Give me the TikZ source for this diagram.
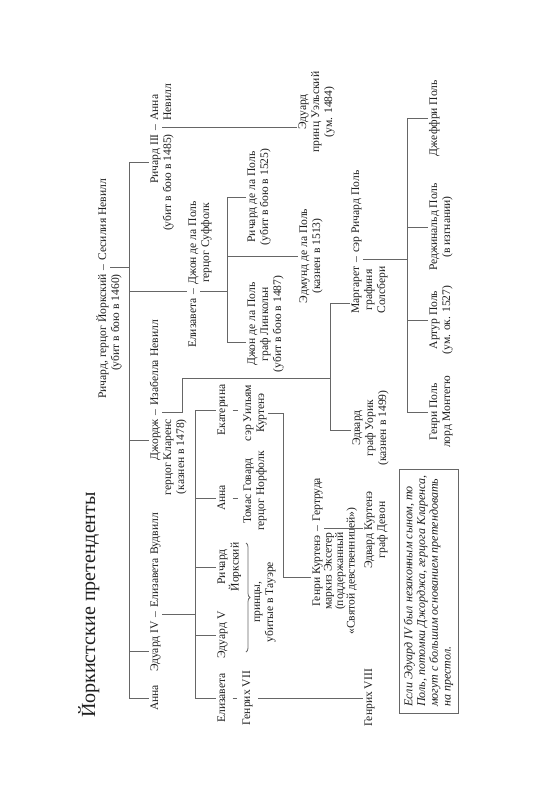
\documentclass[tikz,border=0pt]{standalone}
\usepackage{fontspec}
\setmainfont{Liberation Serif}
\usetikzlibrary{decorations.pathreplacing}
\newcommand\mlines[2][c]{\begin{tabular}[t]{@{}#1@{}}#2\end{tabular}}
\begin{document}
\begin{tikzpicture}[x=1pt,y=-1pt,
  every node/.style={rotate=90,inner sep=0pt,text=black!88,font=\fontsize{11.6}{13}\selectfont},
  tight/.style={font=\fontsize{11.6}{11.6}\selectfont},
  ln/.style={draw=black!60,line width=0.8pt},
  dsh/.style={inner xsep=3.5pt},
  wed/.style={ln,shorten <=3.5pt,shorten >=3.5pt}]
\useasboundingbox (0,0) rectangle (534,800);

% title
\node[font=\fontsize{20}{24}\selectfont,anchor=base] (title) at (95,605) {Йоркистские претенденты};

% generation 1
\node[anchor=base east] (york) at (106,274) {\mlines[r]{Ричард, герцог Йоркский\\(убит в бою в 1460)}};
\node[dsh,anchor=base west] (dY) at (york.base east) {\mlines{–}};
\node[anchor=base west] (cecily) at (dY.base east) {\mlines{Сесилия Невилл}};
\coordinate (tT) at (129,162);
\coordinate (tB) at (129,698);
\draw[ln] (tT) -- (tB);
\draw[ln] (dY.south) -- (dY.south -| tT);

% generation 2
\node[anchor=base] (annaY) at (158,698) {\mlines{Анна}};
\draw[ln] (tB) -- (annaY.north);

\node[anchor=base east] (edw) at (158,621) {\mlines{Эдуард IV}};
\node[dsh,anchor=base west] (dE) at (edw.base east) {\mlines{–}};
\node[anchor=base west] (elw) at (dE.base east) {\mlines{Елизавета Вудвилл}};
\coordinate (bE) at (129,651);
\draw[ln] (bE) -- (bE -| edw.north);

\node[anchor=base east] (george) at (158,419) {\mlines[r]{Джордж\\герцог Кларенс\\(казнен в 1478)}};
\node[dsh,anchor=base west] (dG) at (george.base east) {\mlines{–}};
\node[anchor=base west] (isabel) at (dG.base east) {\mlines{Изабелла Невилл}};
\coordinate (bG) at (129,440);
\draw[ln] (bG) -- (bG -| george.north);

\node[anchor=base east] (elzY) at (196,298) {\mlines{Елизавета}};
\node[dsh,anchor=base west] (dZ) at (elzY.base east) {\mlines{–}};
\node[anchor=base west] (suffolk) at (dZ.base east) {\mlines{Джон де ла Поль\\герцог Суффолк}};
\draw[ln] (dZ.north -| tT) -- (dZ.north -| elzY.north);

\node[anchor=base east] (r3) at (158,134) {\mlines[r]{Ричард III\\(убит в бою в 1485)}};
\node[dsh,anchor=base west] (dR) at (r3.base east) {\mlines{–}};
\node[anchor=base west] (annaN) at (dR.base east) {\mlines[l]{Анна\\Невилл}};
\draw[ln] (tT) -- (tT -| r3.north);

\node[anchor=base] (edP) at (306,112) {\mlines{Эдуард\\принц Уэльский\\(ум. 1484)}};
\draw[ln] (dR.south) -- (dR.south -| edP.north);

% children of Edward IV
\coordinate (vX) at (195,0);
\node[anchor=base] (elz) at (225,698) {\mlines{Елизавета}};
\node[anchor=base] (h7) at (250,698) {\mlines{Генрих VII}};
\draw[wed] (elz.south) -- (h7.north);
\node[anchor=base] (ed5) at (225,635) {\mlines{Эдуард V}};
\node[anchor=base] (rY) at (225,567) {\mlines{Ричард\\Йоркский}};
\coordinate (brT) at (246,543);
\coordinate (brB) at (246,652);
\draw[ln,decorate,decoration={brace,amplitude=4pt}] (brT) -- (brB);
\node[anchor=base] (princes) at (260,602) {\mlines{принцы,\\убитые в Тауэре}};
\node[anchor=base] (annaE) at (225,498) {\mlines{Анна}};
\node[anchor=base] (howard) at (251,491) {\mlines{Томас Говард\\герцог Норфолк}};
\draw[wed] (annaE.south) -- (annaE.south -| howard.north);
\node[anchor=base] (kat) at (225,410) {\mlines{Екатерина}};
\node[anchor=base] (wc) at (251,413) {\mlines{сэр Уильям\\Куртенэ}};
\draw[wed] (kat.south) -- (kat.south -| wc.north);
\draw[ln] (kat.north -| vX) -- (elz.north -| vX);
\draw[ln] (dE.south) -- (dE.south -| vX);
\foreach \c in {elz,ed5,rY,annaE,kat} \draw[ln] (\c.north -| vX) -- (\c.north);

\node[anchor=base] (h8) at (372,698) {\mlines{Генрих VIII}};
\draw[ln,shorten <=4pt] (h8.north -| h7.south) -- (h8.north);

% Courtenay
\node[anchor=base] (hc1) at (320,571) {\mlines{Генри Куртенэ}};
\node[tight,anchor=base] (hc2) at (331.5,571) {\mlines{маркиз Эксетер\\(поддержанный\\«Святой девственницей»)}};
\node[dsh,anchor=base west] (dH) at (hc1.base east) {\mlines{–}};
\node[anchor=base west] (gert) at (dH.base east) {\mlines{Гертруда}};
\coordinate (cK) at (283,577);
\draw[ln] (wc.south) -| (cK) -- (cK -| hc1.north);
\node[anchor=base] (ec) at (372,530) {\mlines{Эдвард Куртенэ\\граф Девон}};
\draw[ln] (dH.south) -- (dH.south -| ec.north);

% children of George
\coordinate (gK) at (182,378);
\coordinate (wT) at (330,303);
\coordinate (wB) at (330,430);
\draw[ln] (dG.south) -| (gK) -- (gK -| wT);
\draw[ln] (wT) -- (wB);
\node[anchor=base] (mg) at (359,290) {\mlines{Маргарет\\графиня\\Солсбери}};
\node[dsh,anchor=base west] (dM) at (mg.base east) {\mlines{–}};
\node[anchor=base west] (rpole) at (dM.base east) {\mlines{сэр Ричард Поль}};
\node[anchor=base] (ew) at (360,428) {\mlines{Эдвард\\граф Уорик\\(казнен в 1499)}};
\draw[ln] (wT) -- (wT -| mg.north);
\draw[ln] (wB) -- (wB -| ew.north);

% Pole children
\coordinate (pX) at (407,0);
\draw[ln] (dM.south) -- (dM.south -| pX);
\node[anchor=base] (hp) at (437,412) {\mlines{Генри Поль\\лорд Монтегю}};
\node[anchor=base] (ap) at (437,320) {\mlines{Артур Поль\\(ум. ок. 1527)}};
\node[anchor=base] (rgp) at (437,227) {\mlines{Реджинальд Поль\\(в изгнании)}};
\node[anchor=base] (gp) at (437,118) {\mlines{Джеффри Поль}};
\draw[ln] (gp.north -| pX) -- (hp.north -| pX);
\foreach \c in {hp,ap,rgp,gp} \draw[ln] (\c.north -| pX) -- (\c.north);

% Suffolk children
\coordinate (sX) at (227,0);
\coordinate (bL) at (227,342);
\draw[ln] (dZ.south) -- (dZ.south -| sX);
\node[anchor=base] (jl) at (255,324) {\mlines{Джон де ла Поль\\граф Линкольн\\(убит в бою в 1487)}};
\node[anchor=base] (rdp) at (255,197) {\mlines{Ричард де ла Поль\\(убит в бою в 1525)}};
\node[anchor=base] (edm) at (307,256) {\mlines{Эдмунд де ла Поль\\(казнен в 1513)}};
\draw[ln] (rdp.north -| sX) -- (bL);
\draw[ln] (bL) -- (bL -| jl.north);
\foreach \c in {rdp,edm} \draw[ln] (\c.north -| sX) -- (\c.north);

% note
\node[draw=black!60,line width=0.6pt,minimum width=244pt,minimum height=59pt,
  font=\fontsize{12}{12.7}\selectfont\itshape,align=left] (note) at (428.5,591)
  {Если Эдуард IV был незаконным сыном, то\\Поль, потомки Джорджа, герцога Кларенса,\\могут с большим основанием претендовать\\на престол.};
\end{tikzpicture}
\end{document}
